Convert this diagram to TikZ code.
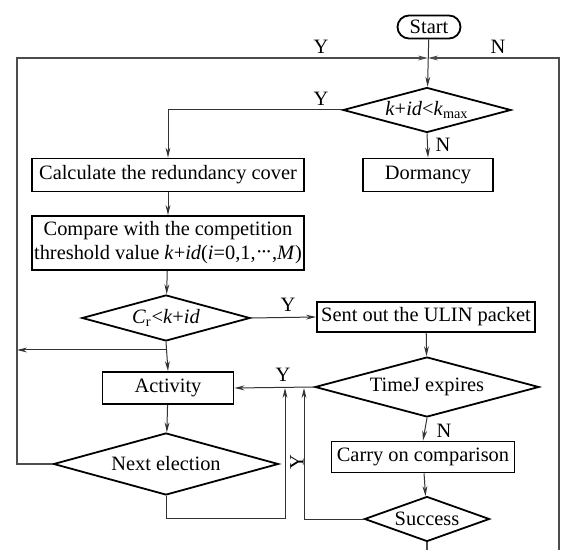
\documentclass[tikz,border=0pt]{standalone}
\usepackage{fontspec}
\setmainfont{Liberation Serif}
\usetikzlibrary{shapes.geometric,arrows.meta,calc}

\newcommand{\tightdots}{\raisebox{0.2ex}{\textperiodcentered\kern-0.1em\textperiodcentered\kern-0.1em\textperiodcentered}}

\begin{document}
\begin{tikzpicture}[x=0.5pt,y=-0.5pt,
    font=\fontsize{10.2}{12}\selectfont,
    box/.style={draw,line width=0.9pt,inner sep=0pt},
    decision/.style={draw,diamond,line width=0.9pt,inner sep=0pt,aspect=3.5},
    line/.style={draw=black!80,line width=0.5pt},
    arr/.style={line,-{Stealth[length=5pt,width=2.4pt]}},
    frame/.style={draw=black!70,line width=0.6pt,-{Stealth[length=5pt,width=2.4pt]}}]
      \useasboundingbox (0,0) rectangle (562,550);
      % boxes and decisions
      \node[box,rounded corners=5.75pt,minimum width=31.5pt,minimum height=11.5pt] (start) at (429,27) {Start};
      \node[decision,minimum width=84pt,minimum height=22.5pt] (kmax) at (427,110) {\textit{k}+\textit{id}<\textit{k}\textsubscript{max}};
      \node[box,minimum width=136pt,minimum height=16.5pt] (calc) at (168,175) {Calculate the redundancy cover};
      \node[box,minimum width=65pt,minimum height=16.5pt] (dorm) at (428,175) {Dormancy};
      \node[box,minimum width=136pt,minimum height=27pt,align=center] (comp) at (168,243) {Compare with the competition\\threshold value \textit{k}+\textit{id}(\textit{i}=0,1,\tightdots,\textit{M})};
      \node[decision,minimum width=84pt,minimum height=23pt] (cr) at (166,318) {\textit{C}\textsubscript{r}<\textit{k}+\textit{id}};
      \node[box,minimum width=109pt,minimum height=15pt] (sent) at (426,317) {Sent out the ULIN packet};
      \node[decision,minimum width=112pt,minimum height=30pt] (timej) at (427,387) {TimeJ expires};
      \node[box,minimum width=65.5pt,minimum height=16pt] (act) at (168,388) {Activity};
      \node[decision,minimum width=112.5pt,minimum height=31pt] (next) at (166,464) {Next election};
      \node[box,minimum width=91.5pt,minimum height=15.5pt] (carry) at (423,457) {Carry on comparison};
      \node[decision,minimum width=62.5pt,minimum height=22.5pt] (succ) at (427,519) {Success};
      % labels
      \node (ytop) at (321,47) {Y};
      \node (ntop) at (498,47) {N};
      \node (ykmax) at (321,99) {Y};
      \node (nkmax) at (443,145) {N};
      \node (ycr) at (288,305) {Y};
      \node (ytime) at (283,375) {Y};
      \node (ntime) at (444,431) {N};
      \node[rotate=90] (yup) at (297,462) {Y};
      % helper points
      \coordinate (topjoin) at (428,58);
      \coordinate (lft) at (17,0);
      \coordinate (rgtlow) at (559,570);
      \coordinate (split) at (166,350);
      \coordinate (up1) at (285,518);
      \coordinate (up2) at (304,0);
      % connectors
      \draw[arr] (start) -- (kmax);
      \draw[arr] (kmax.west) -| (calc.north);
      \draw[arr] (kmax.south) -- (dorm.north);
      \draw[arr] (calc) -- (comp);
      \draw[arr] (comp) -- (cr);
      \draw[arr] (cr.east) -- (sent.west);
      \draw[arr] (cr.south) -- (act.north);
      \draw[arr] (split) -- (split -| lft);
      \draw[arr] (sent) -- (timej);
      \draw[arr] (timej.west) -- (act.east);
      \draw[arr] (timej.south) -- (carry.north);
      \draw[arr] (carry) -- (succ);
      \draw[arr] (act) -- (next);
      \draw[arr] (next.south) |- (up1) -- (up1 |- act.east);
      \draw[arr] (succ.west) -| (act.east -| up2);
      % outer loops
      \draw[frame] (next.west) -- (next.west -| lft) |- (topjoin);
      \draw[frame] (succ.south) |- (rgtlow) |- (topjoin);
\end{tikzpicture}
\end{document}
